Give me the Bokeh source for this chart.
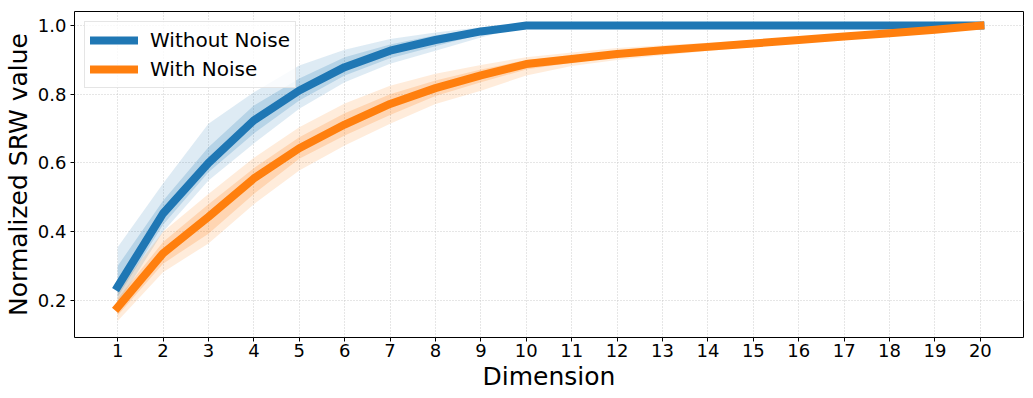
from bokeh.plotting import figure
from bokeh.models import Range1d, FixedTicker, Legend, LegendItem, PrintfTickFormatter
from bokeh.embed import file_html
from bokeh.resources import INLINE

# ---- data ----
dims = list(range(1, 21))

wo_mean = [0.240, 0.453, 0.600, 0.724, 0.811, 0.879, 0.927, 0.958, 0.983, 1.0,
           1.0, 1.0, 1.0, 1.0, 1.0, 1.0, 1.0, 1.0, 1.0, 1.0]
wo_outer_lo = [0.190, 0.400, 0.549, 0.657, 0.758, 0.835, 0.889, 0.927, 0.965, 1.0,
               1.0, 1.0, 1.0, 1.0, 1.0, 1.0, 1.0, 1.0, 1.0, 1.0]
wo_outer_hi = [0.355, 0.540, 0.714, 0.806, 0.884, 0.930, 0.961, 0.980, 0.995, 1.0,
               1.0, 1.0, 1.0, 1.0, 1.0, 1.0, 1.0, 1.0, 1.0, 1.0]
wo_inner_lo = [0.210, 0.420, 0.573, 0.686, 0.782, 0.855, 0.905, 0.940, 0.975, 1.0,
               1.0, 1.0, 1.0, 1.0, 1.0, 1.0, 1.0, 1.0, 1.0, 1.0]
wo_inner_hi = [0.300, 0.490, 0.646, 0.767, 0.846, 0.908, 0.945, 0.972, 0.990, 1.0,
               1.0, 1.0, 1.0, 1.0, 1.0, 1.0, 1.0, 1.0, 1.0, 1.0]

wn_mean = [0.180, 0.337, 0.443, 0.555, 0.643, 0.712, 0.772, 0.818, 0.855, 0.888,
           0.903, 0.917, 0.928, 0.938, 0.948, 0.958, 0.968, 0.978, 0.988, 1.0]
wn_outer_lo = [0.140, 0.282, 0.366, 0.480, 0.578, 0.651, 0.714, 0.772, 0.810, 0.855,
               0.882, 0.900, 0.914, 0.926, 0.938, 0.950, 0.962, 0.973, 0.985, 1.0]
wn_outer_hi = [0.230, 0.400, 0.510, 0.615, 0.704, 0.773, 0.825, 0.860, 0.885, 0.908,
               0.922, 0.935, 0.943, 0.950, 0.958, 0.966, 0.974, 0.982, 0.991, 1.0]
wn_inner_lo = [0.156, 0.307, 0.394, 0.510, 0.612, 0.680, 0.740, 0.795, 0.835, 0.872,
               0.892, 0.908, 0.920, 0.931, 0.942, 0.953, 0.964, 0.975, 0.986, 1.0]
wn_inner_hi = [0.205, 0.370, 0.480, 0.585, 0.675, 0.745, 0.800, 0.840, 0.872, 0.900,
               0.912, 0.925, 0.935, 0.944, 0.953, 0.962, 0.971, 0.980, 0.990, 1.0]

y_ticks = [0.2, 0.4, 0.6, 0.8, 1.0]
labels = ["Without Noise", "With Noise"]

BLUE = "#1f77b4"
ORANGE = "#ff7f0e"
FONT = "DejaVu Sans"

p = figure(width=1033, height=398, output_backend="svg", toolbar_location=None,
           x_range=Range1d(0.05, 20.95), y_range=Range1d(0.092, 1.041),
           min_border_left=74, min_border_right=10, min_border_top=11, min_border_bottom=61)

# bands
p.varea(x=dims, y1=wo_outer_lo, y2=wo_outer_hi, fill_color=BLUE, fill_alpha=0.15)
p.varea(x=dims, y1=wo_inner_lo, y2=wo_inner_hi, fill_color=BLUE, fill_alpha=0.2)
p.varea(x=dims, y1=wn_outer_lo, y2=wn_outer_hi, fill_color=ORANGE, fill_alpha=0.15)
p.varea(x=dims, y1=wn_inner_lo, y2=wn_inner_hi, fill_color=ORANGE, fill_alpha=0.2)

r1 = p.line(dims, wo_mean, line_color=BLUE, line_width=8, line_join="round", line_cap="square")
r2 = p.line(dims, wn_mean, line_color=ORANGE, line_width=8, line_join="round", line_cap="square")

legend = Legend(items=[LegendItem(label=labels[0], renderers=[r1]),
                       LegendItem(label=labels[1], renderers=[r2])],
                location="top_left")
legend.label_text_font = FONT
legend.label_text_font_size = "20px"
legend.label_text_color = "#000000"
legend.glyph_width = 48
legend.glyph_height = 26
legend.label_height = 26
legend.spacing = 3
legend.padding = 5
legend.margin = 10
legend.label_standoff = 12
legend.border_line_color = "#cccccc"
legend.border_line_width = 1
legend.background_fill_color = "white"
legend.background_fill_alpha = 0.8
p.add_layout(legend)

# axes
p.xaxis.ticker = FixedTicker(ticks=dims)
p.yaxis.ticker = FixedTicker(ticks=y_ticks)
p.yaxis.formatter = PrintfTickFormatter(format="%.1f")
for ax in (p.xaxis[0], p.yaxis[0]):
    ax.major_label_text_font = FONT
    ax.major_label_text_font_size = "18px"
    ax.major_label_text_color = "#000000"
    ax.axis_label_text_font = FONT
    ax.axis_label_text_font_size = "25px"
    ax.axis_label_text_font_style = "normal"
    ax.axis_label_text_color = "#000000"
    ax.axis_line_color = None
    ax.major_tick_line_color = "#000000"
    ax.major_tick_out = 4
    ax.major_tick_in = 0
    ax.minor_tick_line_color = None
p.xaxis.axis_label = "Dimension"
p.yaxis.axis_label = "Normalized SRW value"
p.xaxis.major_label_standoff = 2
p.xaxis.axis_label_standoff = 2
p.yaxis.major_label_standoff = 4
p.yaxis.axis_label_standoff = 2

# grid
for g in (p.xgrid[0], p.ygrid[0]):
    g.grid_line_color = "#c0c0c0"
    g.grid_line_alpha = 0.8
    g.grid_line_dash = "1 2"
    g.grid_line_width = 1

p.outline_line_color = "#000000"
p.outline_line_width = 1
p.background_fill_color = "white"
p.border_fill_color = "white"

open("out.html", "w").write(file_html(p, INLINE))
